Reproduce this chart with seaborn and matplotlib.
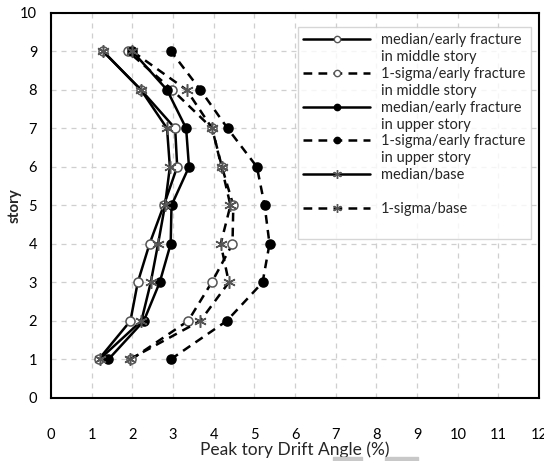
import matplotlib
matplotlib.use("Agg")
import matplotlib.pyplot as plt
import seaborn as sns
from matplotlib.lines import Line2D
from matplotlib.patches import Rectangle

# story levels and peak drift angles (%)
stories = [1, 2, 3, 4, 5, 6, 7, 8, 9]
median_mid = [1.17, 1.95, 2.13, 2.42, 2.77, 3.10, 3.05, 2.21, 1.28]
sigma_mid = [1.97, 3.37, 3.95, 4.46, 4.48, 4.20, 3.96, 2.98, 1.89]
median_up = [1.41, 2.28, 2.67, 2.94, 2.96, 3.39, 3.32, 2.85, 2.00]
sigma_up = [2.94, 4.32, 5.20, 5.37, 5.25, 5.06, 4.34, 3.67, 2.95]
median_base = [1.19, 2.22, 2.45, 2.63, 2.80, 2.92, 2.85, 2.21, 1.28]
sigma_base = [1.93, 3.67, 4.37, 4.17, 4.41, 4.19, 3.96, 3.33, 2.00]

labels = ["median/early fracture", "1-sigma/early fracture",
          "median/early fracture", "1-sigma/early fracture",
          "median/base", "1-sigma/base"]
second_lines = ["in middle story", "in middle story",
                "in upper story", "in upper story", "", " "]

sns.set_style("white")
plt.rcParams['font.family'] = ['Lato', 'DejaVu Sans']

fig = plt.figure(figsize=(5.44, 4.61), dpi=100)
ax = fig.add_axes([0.094, 0.137, 0.897, 0.835])

dash = (0, (3.5, 2.5))
styles = [
    (median_mid, '-', 'o', 'white', '#555555', 6.5),
    (sigma_mid, dash, 'o', 'white', '#555555', 6.5),
    (median_up, '-', 'o', 'black', 'black', 6.5),
    (sigma_up, dash, 'o', 'black', 'black', 6.5),
    (median_base, '-', (6, 2, 0), 'none', '#555555', 9),
    (sigma_base, dash, (6, 2, 0), 'none', '#555555', 9),
]

handles = []
for vals, ls, mk, mfc, mec, ms in styles:
    sns.lineplot(x=vals, y=stories, sort=False, estimator=None, ax=ax,
                 color='black', linestyle=ls, lw=1.8, marker=mk,
                 markerfacecolor=mfc, markeredgecolor=mec, markersize=ms,
                 markeredgewidth=1.1)
    handles.append(Line2D([], [], color='black', linestyle=ls, lw=1.8,
                          marker=mk, markerfacecolor=mfc, markeredgecolor=mec,
                          markersize=ms * 0.7, markeredgewidth=1))

ax.set_xlim(0, 12)
ax.set_ylim(0, 10)
ax.set_xticks(range(0, 13))
ax.set_yticks(range(0, 11))
ax.grid(True, color='#cfcfcf', linestyle=(0, (4, 4)), lw=0.9)
for sp in ax.spines.values():
    sp.set_color('black')
    sp.set_linewidth(1.5)
ax.tick_params(axis='x', direction='inout', length=9, width=1.2, pad=17,
               labelsize=10.5, colors='black')
ax.tick_params(axis='y', direction='out', length=5, width=1.2, pad=5,
               labelsize=10.5, colors='black')
ax.set_xlabel("Peak tory Drift Angle (%)", fontsize=12.5, labelpad=0)
ax.set_ylabel("story", fontsize=11, fontweight='bold', labelpad=-1)

# legend with the second line of each label as its own row
leg_handles, leg_labels = [], []
for h, lab, extra in zip(handles, labels, second_lines):
    leg_handles.append(h)
    leg_labels.append(lab)
    leg_handles.append(Line2D([], [], linestyle='none'))
    leg_labels.append(extra)
leg = ax.legend(leg_handles, leg_labels, loc='upper left',
                bbox_to_anchor=(0.49, 0.982), fontsize=10.5, handlelength=4.6,
                handletextpad=0.7, labelspacing=0.2, frameon=True,
                fancybox=False, borderpad=0.4)
leg.get_frame().set_edgecolor('#cccccc')
leg.get_frame().set_linewidth(1)

fig.patches.append(Rectangle((333 / 544, 0), 29 / 544, 4 / 461,
                             transform=fig.transFigure, color='#c8c8c8'))
fig.patches.append(Rectangle((385 / 544, 0), 33 / 544, 4 / 461,
                             transform=fig.transFigure, color='#c8c8c8'))

fig.savefig("out.png", dpi=100)
